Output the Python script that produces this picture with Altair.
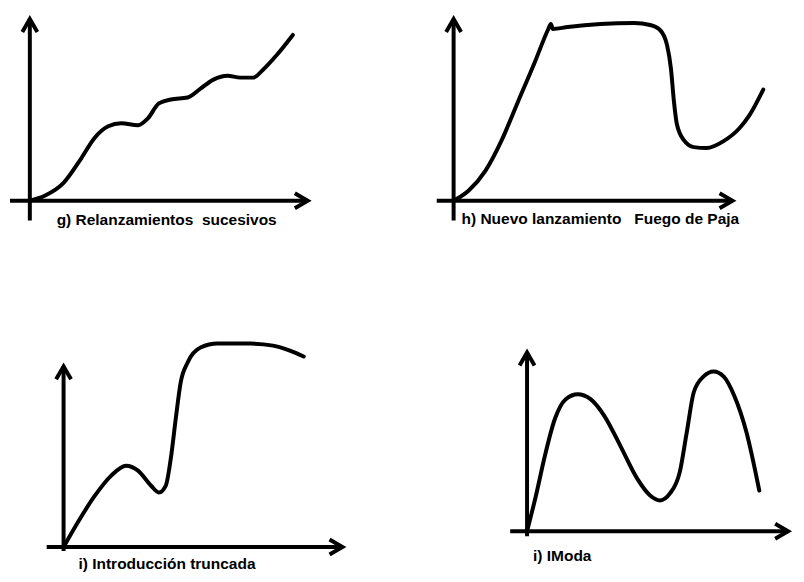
import altair as alt
import pandas as pd

# ---- curve values (time units, sales units) ----
g_t = [0, 0.75, 1.7, 2.6, 3.25, 3.95, 4.6, 5.45, 5.95, 6.5, 7.1, 7.95, 8.6, 9.25, 9.95, 10.6, 11.25, 11.75, 12.45, 13.25]
g_v = [0, 0.25, 0.9, 2.15, 3.15, 3.75, 3.9, 3.8, 4.15, 4.9, 5.1, 5.2, 5.65, 6.1, 6.3, 6.2, 6.2, 6.6, 7.35, 8.35]

h_t = [0, 0.75, 1.6, 2.4, 3.25, 4.1, 4.75, 4.9, 5.0, 5.75, 7.4, 9.1, 9.9, 10.4, 10.75, 10.95, 11.1, 11.25, 11.6, 12.1, 12.75, 13.6, 14.4, 14.9, 15.6]
h_v = [0, 0.5, 1.5, 3.0, 5.0, 7.0, 8.6, 8.9, 8.65, 8.75, 8.9, 8.95, 8.85, 8.6, 7.85, 6.65, 5.0, 3.85, 3.05, 2.7, 2.65, 3.0, 3.65, 4.3, 5.6]

i_t = [0, 0.75, 1.55, 2.4, 3.15, 3.75, 4.4, 4.8, 5.15, 5.4, 5.65, 5.9, 6.25, 6.9, 7.75, 9.4, 10.55, 11.4, 12.1]
i_v = [0, 1.3, 2.55, 3.6, 4.1, 3.85, 3.1, 2.75, 3.1, 4.45, 6.45, 8.3, 9.3, 10.05, 10.25, 10.25, 10.15, 9.9, 9.6]

m_t = [0, 0.45, 0.9, 1.4, 1.95, 2.55, 3.2, 3.9, 4.7, 5.55, 6.2, 6.7, 7.2, 7.7, 8.05, 8.4, 8.9, 9.4, 9.9, 10.45, 11.05, 11.7]
m_v = [0, 1.8, 3.8, 5.65, 6.65, 6.9, 6.65, 5.8, 4.3, 2.65, 1.8, 1.55, 1.9, 3.0, 5.0, 7.0, 7.8, 8.05, 7.8, 6.8, 5.0, 2.05]

labels = [
    "g) Relanzamientos\u00a0 sucesivos",
    "h) Nuevo lanzamiento\u00a0\u00a0 Fuego de Paja",
    "i) Introducción truncada",
    "i) IModa",
]

# axis extents (start, arrow tip) in the same units
g_axes = {"x": (-1.0, 14.0), "y": (-1.0, 9.15)}
h_axes = {"x": (-0.85, 14.05), "y": (-1.0, 9.15)}
i_axes = {"x": (-0.85, 14.05), "y": (-0.2, 9.1)}
m_axes = {"x": (-0.85, 13.15), "y": (-0.25, 9.0)}

UP = "M-0.58,1L0,0L0.58,1"
RIGHT = "M-1,-0.58L0,0L-1,0.58"
FONT = "Liberation Sans"


def panel(t, v, axes, label, xdom, ydom, w, h, lx, ly):
    sx = alt.Scale(domain=list(xdom), nice=False, zero=False)
    sy = alt.Scale(domain=list(ydom), nice=False, zero=False)

    def X(f):
        return alt.X(f, type="quantitative", scale=sx, axis=None)

    def Y(f):
        return alt.Y(f, type="quantitative", scale=sy, axis=None)

    curve = alt.Chart(pd.DataFrame({"t": t, "v": v})).mark_line(
        color="black", strokeWidth=4, interpolate="monotone", strokeCap="round"
    ).encode(x=X("t"), y=Y("v"))

    xr = alt.Chart(pd.DataFrame({"a": [axes["x"][0]], "b": [axes["x"][1]], "c": [0]})).mark_rule(
        color="black", strokeWidth=4
    ).encode(x=X("a"), x2=alt.X2("b"), y=Y("c"))
    yr = alt.Chart(pd.DataFrame({"a": [axes["y"][0]], "b": [axes["y"][1]], "c": [0]})).mark_rule(
        color="black", strokeWidth=4
    ).encode(y=Y("a"), y2=alt.Y2("b"), x=X("c"))

    xa = alt.Chart(pd.DataFrame({"a": [axes["x"][1]], "c": [0]})).mark_point(
        shape=RIGHT, size=676, filled=False, stroke="black", strokeWidth=4, opacity=1
    ).encode(x=X("a"), y=Y("c"))
    ya = alt.Chart(pd.DataFrame({"a": [axes["y"][1]], "c": [0]})).mark_point(
        shape=UP, size=676, filled=False, stroke="black", strokeWidth=4, opacity=1
    ).encode(y=Y("a"), x=X("c"))

    txt = alt.Chart(pd.DataFrame({"l": [label]})).mark_text(
        font=FONT, fontWeight="bold", fontSize=15.6, align="left", baseline="alphabetic", color="black"
    ).encode(x=alt.value(lx), y=alt.value(ly), text="l:N")

    return alt.layer(xr, yr, xa, ya, curve, txt).properties(width=w, height=h)


TOP_H = 322
BOT_H = 243

pg = panel(g_t, g_v, g_axes, labels[0], (-1.0, 15.0), (9.6 - TOP_H / 20, 9.6), 320, TOP_H, 47, 216)
ph = panel(h_t, h_v, h_axes, labels[1], (-6.35, 17.05), (9.6 - TOP_H / 20, 9.6), 468, TOP_H, 135, 215)
pi = panel(i_t, i_v, i_axes, labels[2], (-2.7, 17.9), (10.95 - BOT_H / 20, 10.95), 412, BOT_H, 69, 241)
pm = panel(m_t, m_v, m_axes, labels[3], (-5.45, 13.35), (10.15 - BOT_H / 20, 10.15), 376, BOT_H, 115, 233)

chart = alt.vconcat(
    alt.hconcat(pg, ph, spacing=0),
    alt.hconcat(pi, pm, spacing=0),
    spacing=0,
).properties(padding=0, background="white").configure_view(stroke=None)

chart.save("out.html", embed_options={"renderer": "svg", "actions": False})
